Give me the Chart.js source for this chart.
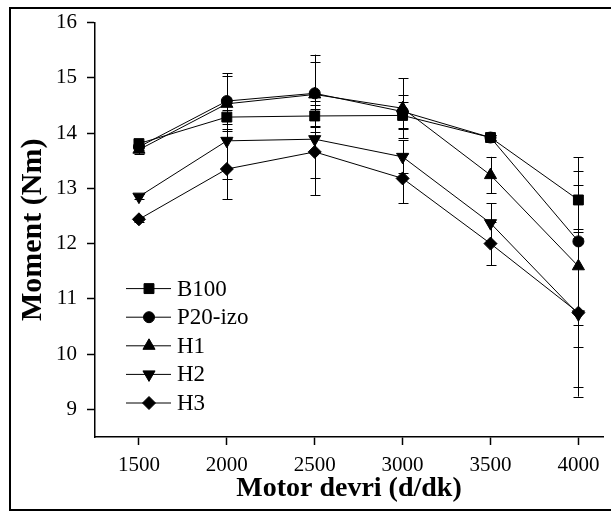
<!DOCTYPE html>
<html>
<head>
<meta charset="utf-8">
<script src="https://cdn.jsdelivr.net/npm/chart.js@4/dist/chart.umd.min.js"></script>
<style>
  html, body { margin: 0; padding: 0; background: #fff; }
  #wrap { width: 611px; height: 513px; }
</style>
</head>
<body>
<div id="wrap"><canvas id="moment_chart"></canvas></div>
<script>
// motor devri (d/dk)
var rpm = [1500, 2000, 2500, 3000, 3500, 4000];
var xTicks = [1500, 2000, 2500, 3000, 3500, 4000];
var yTicks = [9, 10, 11, 12, 13, 14, 15, 16];

// moment (Nm), okunan degerler
var b100 = [13.81, 14.29, 14.31, 14.32, 13.92, 12.79];
var p20izo = [13.75, 14.58, 14.72, 14.39, 13.92, 12.04];
var h1 = [13.70, 14.53, 14.70, 14.45, 13.24, 11.59];
var h2 = [12.85, 13.86, 13.89, 13.57, 12.37, 10.72];
var h3 = [12.44, 13.35, 13.66, 13.18, 12.00, 10.75];

// hata cubuklari (+/-)
var b100_err = [0.05, 0.12, 0.20, 0.25, 0.05, 0.53];
var p20izo_err = [0.05, 0.50, 0.70, 0.30, 0.05, 1.52];
var h1_err = [0.08, 0.50, 0.58, 0.54, 0.33, 1.47];
var h2_err = [0.05, 0.69, 0.70, 0.30, 0.36, 1.49];
var h3_err = [0.05, 0.55, 0.78, 0.45, 0.39, 1.35];

var SERIF = "'Liberation Serif', 'Times New Roman', serif";

function makeSet(label, values, errs, style, radius, rotation) {
    return {
        label: label,
        data: rpm.map(function (r, k) { return { x: r, y: values[k] }; }),
        errors: errs,
        borderColor: '#000',
        backgroundColor: '#000',
        borderWidth: 1,
        pointStyle: style,
        pointRadius: radius,
        pointRotation: rotation || 0,
        pointBackgroundColor: '#000',
        pointBorderColor: '#000',
        pointBorderWidth: 1,
        tension: 0
    };
}

// hata cubuklari
var errorBars = {
    id: 'errorBars',
    beforeDatasetsDraw: function (chart) {
        var ctx = chart.ctx;
        var ys = chart.scales.y;
        ctx.save();
        ctx.strokeStyle = '#000';
        ctx.lineWidth = 1;
        chart.data.datasets.forEach(function (ds, i) {
            var meta = chart.getDatasetMeta(i);
            meta.data.forEach(function (pt, k) {
                var v = ds.data[k].y;
                var e = ds.errors[k];
                var x = Math.round(pt.x) + 0.5;
                var top = ys.getPixelForValue(v + e);
                var bot = ys.getPixelForValue(v - e);
                ctx.beginPath();
                ctx.moveTo(x, top);
                ctx.lineTo(x, bot);
                ctx.moveTo(x - 5, Math.round(top) + 0.5);
                ctx.lineTo(x + 5, Math.round(top) + 0.5);
                ctx.moveTo(x - 5, Math.round(bot) + 0.5);
                ctx.lineTo(x + 5, Math.round(bot) + 0.5);
                ctx.stroke();
            });
        });
        ctx.restore();
    }
};

// legend inside the plot, lower left
var innerLegend = {
    id: 'innerLegend',
    afterDatasetsDraw: function (chart) {
        var ctx = chart.ctx;
        var area = chart.chartArea;
        var x0 = area.left + 31;
        var y0 = area.top + 266;
        ctx.save();
        ctx.font = '23px ' + SERIF;
        ctx.textBaseline = 'middle';
        ctx.textAlign = 'left';
        chart.data.datasets.forEach(function (ds, i) {
            var y = y0 + i * 28.6;
            ctx.strokeStyle = '#000';
            ctx.lineWidth = 1;
            ctx.beginPath();
            ctx.moveTo(x0, y);
            ctx.lineTo(x0 + 45, y);
            ctx.stroke();
            ctx.fillStyle = '#000';
            Chart.helpers.drawPoint(ctx, {
                pointStyle: ds.pointStyle,
                radius: ds.pointRadius,
                rotation: ds.pointRotation,
                borderWidth: 1
            }, x0 + 23, y);
            ctx.fillStyle = '#000';
            ctx.fillText(ds.label, x0 + 51, y + 1);
        });
        ctx.restore();
    }
};

// outer frame of the figure
var frame = {
    id: 'frame',
    afterDraw: function (chart) {
        var ctx = chart.ctx;
        ctx.save();
        ctx.strokeStyle = '#000';
        ctx.lineWidth = 2;
        ctx.strokeRect(10, 8, 700, 502);
        ctx.restore();
    }
};

ctx = document.getElementById('moment_chart');
var chart = new Chart(ctx, {
    type: 'line',
    data: {
        datasets: [
            makeSet('B100', b100, b100_err, 'rect', 7),
            makeSet('P20-izo', p20izo, p20izo_err, 'circle', 5.5),
            makeSet('H1', h1, h1_err, 'triangle', 7),
            makeSet('H2', h2, h2_err, 'triangle', 7, 180),
            makeSet('H3', h3, h3_err, 'rectRot', 6.5)
        ]
    },
    options: {
        responsive: true,
        maintainAspectRatio: false,
        animation: false,
        layout: { padding: { top: 21, right: 8, left: 0, bottom: 0 } },
        plugins: {
            legend: { display: false },
            tooltip: { enabled: false }
        },
        scales: {
            x: {
                type: 'linear',
                min: 1250,
                max: 4140,
                afterBuildTicks: function (s) {
                    s.ticks = xTicks.map(function (v) { return { value: v }; });
                },
                afterFit: function (s) { s.height = 76; },
                grid: { drawOnChartArea: false, drawTicks: true, tickLength: 8, tickColor: '#000', tickWidth: 1.5 },
                border: { color: '#000', width: 1.5 },
                ticks: {
                    color: '#000',
                    padding: 8,
                    maxRotation: 0,
                    callback: function (v) { return String(v); },
                    font: { family: SERIF, size: 21 }
                },
                title: {
                    display: true,
                    text: 'Motor devri (d/dk)',
                    color: '#000',
                    padding: { top: 0, bottom: 7 },
                    font: { family: SERIF, size: 28, weight: 'bold', lineHeight: 1.2 }
                }
            },
            y: {
                type: 'linear',
                min: 8.5,
                max: 16,
                afterBuildTicks: function (s) {
                    s.ticks = yTicks.map(function (v) { return { value: v }; });
                },
                afterFit: function (s) { s.width = 95; },
                grid: { drawOnChartArea: false, drawTicks: true, tickLength: 8, tickColor: '#000', tickWidth: 1.5 },
                border: { color: '#000', width: 1.5 },
                ticks: {
                    color: '#000',
                    padding: 10,
                    callback: function (v) { return String(v); },
                    font: { family: SERIF, size: 21 }
                },
                title: {
                    display: true,
                    text: 'Moment (Nm)',
                    color: '#000',
                    padding: { top: 15, bottom: 0 },
                    font: { family: SERIF, size: 30, weight: 'bold', lineHeight: 1.2 }
                }
            }
        }
    },
    plugins: [errorBars, innerLegend, frame]
});
</script>
</body>
</html>
